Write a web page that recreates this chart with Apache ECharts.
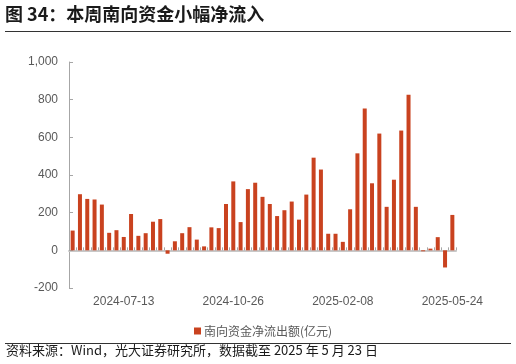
<!DOCTYPE html>
<html>
<head>
<meta charset="utf-8">
<script src="https://cdn.jsdelivr.net/npm/echarts@6/dist/echarts.min.js"></script>
<style>
html,body{margin:0;padding:0;background:#fff;}
#chart{width:516px;height:364px;}
</style>
</head>
<body>
<div id="chart"></div>
<script>
const categories = [
  '2024-05-25','2024-06-01','2024-06-08','2024-06-15','2024-06-22','2024-06-29','2024-07-06','2024-07-13',
  '2024-07-20','2024-07-27','2024-08-03','2024-08-10','2024-08-17','2024-08-24','2024-08-31','2024-09-07',
  '2024-09-14','2024-09-21','2024-09-28','2024-10-05','2024-10-12','2024-10-19','2024-10-26','2024-11-02',
  '2024-11-09','2024-11-16','2024-11-23','2024-11-30','2024-12-07','2024-12-14','2024-12-21','2024-12-28',
  '2025-01-04','2025-01-11','2025-01-18','2025-01-25','2025-02-01','2025-02-08','2025-02-15','2025-02-22',
  '2025-03-01','2025-03-08','2025-03-15','2025-03-22','2025-03-29','2025-04-05','2025-04-12','2025-04-19',
  '2025-04-26','2025-05-03','2025-05-10','2025-05-17','2025-05-24'
];
const netFlow = [
  105, 298, 273, 270, 243, 93, 107, 71, 193, 77, 91, 152, 166, -18, 48, 91,
  123, 57, 21, 122, 118, 246, 366, 150, 325, 359, 284, 246, 182, 213, 259, 163,
  296, 492, 429, 88, 88, 45, 218, 515, 753, 356, 620, 231, 375, 636, 826, 231,
  -5, 9, 70, -91, 188
];
const shownLabels = ['2024-07-13','2024-10-26','2025-02-08','2025-05-24'];
const yTicks = { min: -200, max: 1000, interval: 200 };
const seriesName = '南向资金净流出额(亿元)';
const titleText = '图 34：本周南向资金小幅净流入';
const sourceText = '资料来源：Wind，光大证券研究所，数据截至 2025 年 5 月 23 日';

const chart = echarts.init(document.getElementById('chart'));
const labelFont = 'Liberation Sans, Arial, sans-serif';
const cjkFont = '"Noto Sans CJK SC", sans-serif';

chart.setOption({
  animation: false,
  backgroundColor: '#fff',
  grid: { left: 69, right: 60, top: 62, bottom: 76 },
  legend: {
    left: 189, top: 320,
    itemWidth: 7, itemHeight: 7, itemGap: 4,
    icon: 'rect',
    textStyle: { fontSize: 12, color: '#595959', fontFamily: cjkFont, padding: [0, 0, 0, -2] },
    data: [seriesName]
  },
  xAxis: [
    {
      type: 'category',
      data: categories,
      position: 'bottom',
      axisLine: { show: false, onZero: false },
      axisTick: { show: false },
      axisLabel: {
        interval: (i, v) => shownLabels.indexOf(v) >= 0,
        color: '#595959', fontSize: 12, fontFamily: labelFont, margin: 8
      }
    },
    {
      type: 'category',
      data: categories,
      position: 'bottom',
      axisLine: { show: true, onZero: true, lineStyle: { color: '#c8c8c8', width: 2 } },
      axisTick: { show: true, inside: true, interval: 0, length: 3, lineStyle: { color: '#a6a6a6' } },
      axisLabel: { show: false }
    }
  ],
  yAxis: {
    type: 'value',
    min: yTicks.min, max: yTicks.max, interval: yTicks.interval,
    axisLine: { show: true, lineStyle: { color: '#a6a6a6', width: 1 } },
    axisTick: { show: true, inside: true, length: 4, lineStyle: { color: '#a6a6a6' } },
    splitLine: { show: false },
    axisLabel: {
      color: '#595959', fontSize: 12, fontFamily: labelFont, margin: 11,
      formatter: v => v.toLocaleString('en-US')
    }
  },
  series: [{
    name: seriesName,
    type: 'bar',
    xAxisIndex: 0,
    data: netFlow,
    barWidth: 4,
    itemStyle: { color: '#c9421f' }
  }],
  graphic: [
    { type: 'text', left: 5, top: 5, style: { text: titleText, font: 'bold 18px "Noto Sans CJK SC", sans-serif', fill: '#1a1a1a' } },
    { type: 'line', shape: { x1: 5, y1: 31.5, x2: 511, y2: 31.5 }, style: { stroke: '#333', lineWidth: 1 } },
    { type: 'line', shape: { x1: 5, y1: 343.5, x2: 511, y2: 343.5 }, style: { stroke: '#333', lineWidth: 1 } },
    { type: 'text', left: 6, top: 344, style: { text: sourceText, font: '13px "Noto Sans CJK SC", sans-serif', fill: '#1a1a1a' } }
  ]
});
</script>
</body>
</html>
